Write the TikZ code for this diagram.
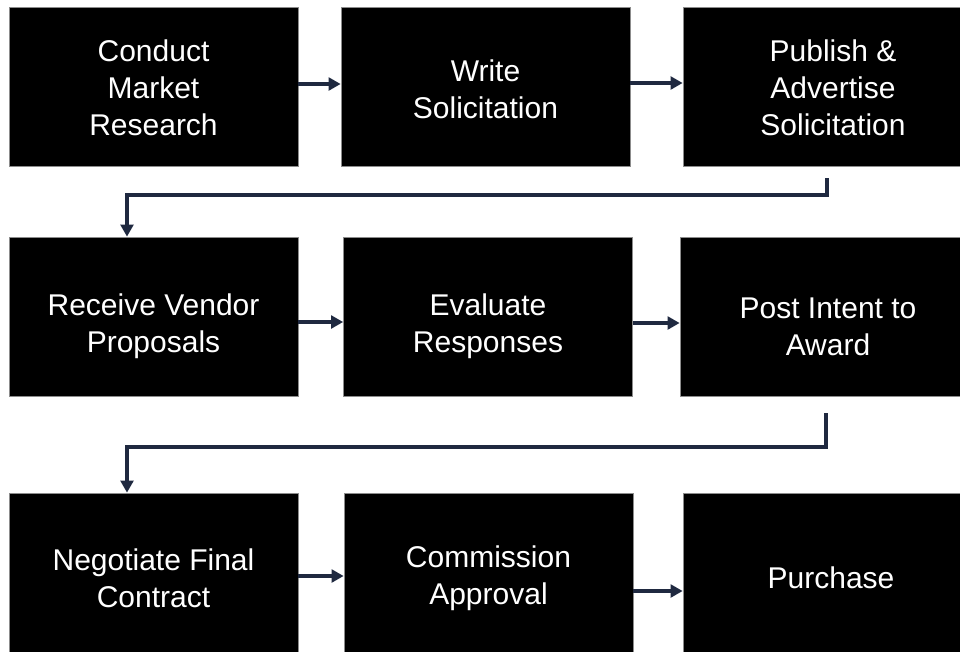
\documentclass[tikz,border=0pt]{standalone}
\usepackage{fontspec}
\setmainfont{Liberation Sans}
\usetikzlibrary{arrows.meta,calc}
\definecolor{navy}{HTML}{1F2940}
\definecolor{edgegray}{HTML}{8C8C8C}
\begin{document}
\begin{tikzpicture}[x=0.75pt,y=-0.75pt,
  stepbox/.style={rectangle,fill=black,draw=edgegray,line width=0.5pt,
    minimum width=289*0.75pt,minimum height=159*0.75pt,inner sep=0pt},
  widebox/.style={stepbox,minimum width=296*0.75pt},
  lbl/.style={inner sep=0pt,text=white,align=center,font=\fontsize{22.5}{27.7}\selectfont},
  arr/.style={draw=navy,line width=2.4pt,-{Triangle[length=9pt,width=9.5pt]}}]
\useasboundingbox (0,0) rectangle (960,651);
\begin{scope}
\clip (0,0) rectangle (960,651);
\node[stepbox] (b1) at (153.5,86.5) {};
\node[stepbox] (b2) at (485.5,86.5) {};
\node[widebox] (b3) at (831,86.5) {};
\node[stepbox] (b4) at (153.5,316.5) {};
\node[stepbox] (b5) at (488,316.5) {};
\node[widebox] (b6) at (828,316.5) {};
\node[stepbox] (b7) at (153.5,572.5) {};
\node[stepbox] (b8) at (488.5,572.5) {};
\node[widebox] (b9) at (831,572.5) {};
\end{scope}
\node[lbl] (t1) at ($(b1.center)+(0,1)$) {Conduct\\Market\\Research};
\node[lbl] (t2) at ($(b2.center)+(0,3)$) {Write\\Solicitation};
\node[lbl] (t3) at ($(b3.center)+(2,1)$) {Publish \&\\Advertise\\Solicitation};
\node[lbl] (t4) at ($(b4.center)+(0,10)$) {Receive Vendor\\Proposals};
\node[lbl] (t5) at ($(b5.center)+(0,10)$) {Evaluate\\Responses};
\node[lbl] (t6) at ($(b6.center)+(0,10)$) {Post Intent to\\Award};
\node[lbl] (t7) at ($(b7.center)+(0,6)$) {Negotiate Final\\Contract};
\node[lbl] (t8) at ($(b8.center)+(0,6)$) {Commission\\Approval};
\node[lbl] (t9) at ($(b9.center)+(0,5)$) {Purchase};
\coordinate (y1a) at (0,84);
\coordinate (y1b) at (0,83);
\coordinate (y2a) at (0,322);
\coordinate (y2b) at (0,323);
\coordinate (y3a) at (0,576);
\coordinate (y3b) at (0,591);
\draw[arr] (b1.east |- y1a) -- (b2.west |- y1a);
\draw[arr] (b2.east |- y1b) -- (b3.west |- y1b);
\draw[arr] (b4.east |- y2a) -- (b5.west |- y2a);
\draw[arr] (b5.east |- y2b) -- (b6.west |- y2b);
\draw[arr] (b7.east |- y3a) -- (b8.west |- y3a);
\draw[arr] (b8.east |- y3b) -- (b9.west |- y3b);
\coordinate (s1) at (827,178);
\coordinate (m1) at (127,195);
\draw[arr] (s1) |- (m1) -- (m1 |- b4.north);
\coordinate (s2) at (826,413);
\coordinate (m2) at (127,447);
\draw[arr] (s2) |- (m2) -- (m2 |- b7.north);
\end{tikzpicture}
\end{document}
